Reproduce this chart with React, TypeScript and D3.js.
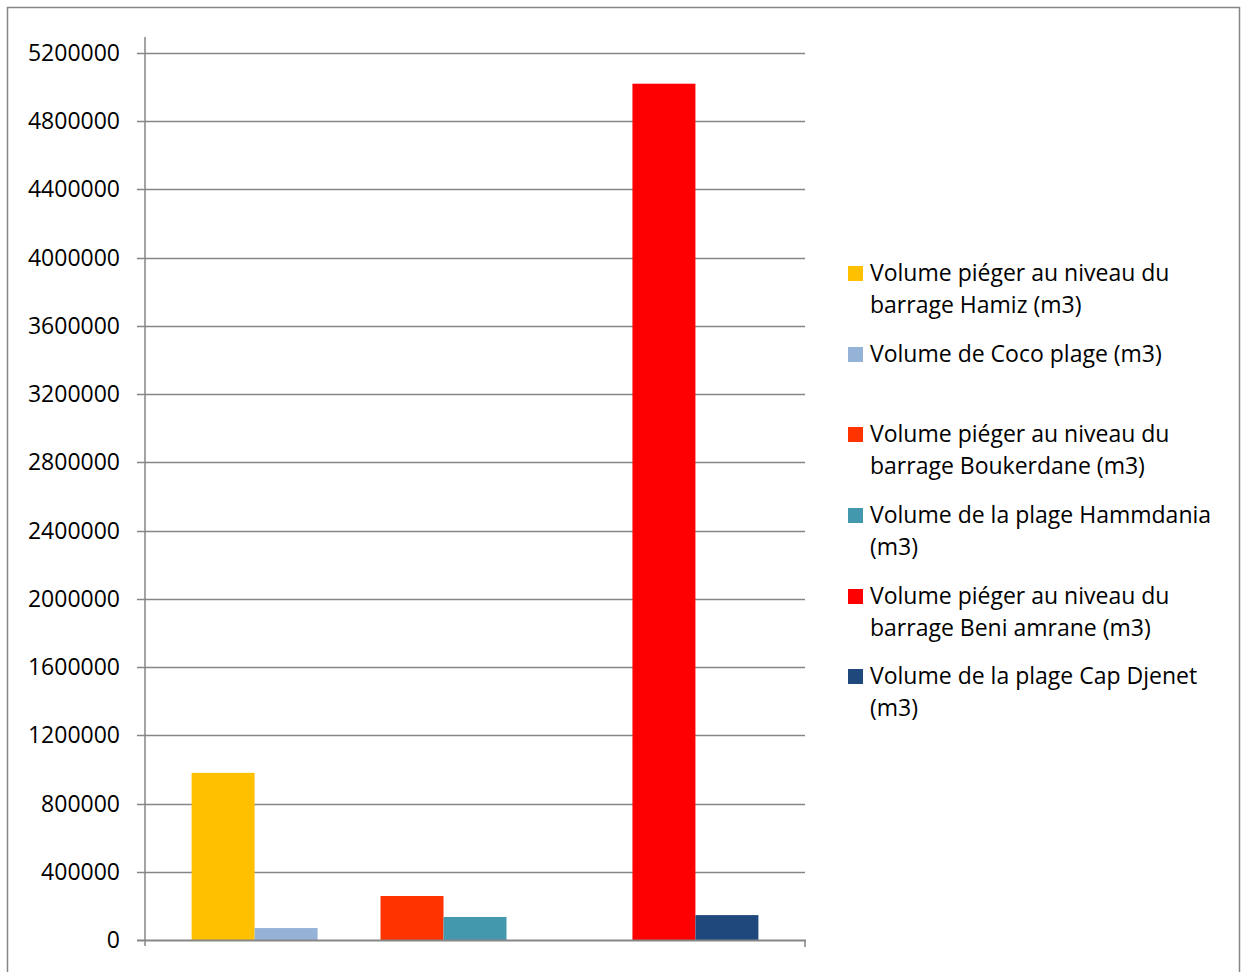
import React, { useEffect, useRef } from "react";
import * as d3 from "d3";

// slots along the x axis (empty ones keep the gaps between the pairs)
const slots = ["Hamiz", "Coco", "gap1", "Boukerdane", "Hammdania", "gap2", "gap3", "BeniAmrane", "CapDjenet"];
const seriesKeys = ["Hamiz", "Coco", "Boukerdane", "Hammdania", "BeniAmrane", "CapDjenet"];
const seriesValues = [980000, 70000, 258000, 135000, 5020000, 146000];
const seriesColors = ["#FFC000", "#95B3D7", "#FF3300", "#4498AE", "#FF0000", "#1F497D"];
const legendLines = [
  ["Volume piéger au niveau du", "barrage Hamiz (m3)"],
  ["Volume de Coco plage (m3)"],
  ["Volume piéger au niveau du", "barrage Boukerdane (m3)"],
  ["Volume de la plage Hammdania", "(m3)"],
  ["Volume piéger au niveau du", "barrage Beni amrane (m3)"],
  ["Volume de la plage Cap Djenet", "(m3)"],
];
const legendTop = [280, 361, 441, 522, 603, 683];
const yTicks = d3.range(0, 5200001, 400000);

const W = 1241;
const H = 972;
const FONT = "'Open Sans', Lato, sans-serif";

const App = () => {
  const ref = useRef(null);

  useEffect(() => {
    if (!ref.current) return;
    const svg = d3.select(ref.current);
    svg.selectAll("*").remove();

    const left = 145, right = 805, top = 53, bottom = 940;
    const x = d3.scaleBand().domain(slots).range([left, right]).paddingInner(0).paddingOuter(0.74);
    const y = d3.scaleLinear().domain([0, 5200000]).range([bottom, top]);
    const grey = "#868686";

    svg.append("rect")
      .attr("x", 7.5).attr("y", 7.5).attr("width", W - 9).attr("height", H)
      .attr("fill", "white").attr("stroke", grey).attr("stroke-width", 1.5);

    // grid
    svg.append("g").selectAll("line").data(yTicks.filter(d => d > 0)).enter()
      .append("line")
      .attr("x1", left - 8).attr("x2", right)
      .attr("y1", d => Math.round(y(d)) + 0.5).attr("y2", d => Math.round(y(d)) + 0.5)
      .attr("stroke", grey).attr("stroke-width", 1.5);

    // y axis line
    svg.append("line")
      .attr("x1", left).attr("x2", left).attr("y1", 37).attr("y2", bottom + 6)
      .attr("stroke", grey).attr("stroke-width", 1.5);

    svg.append("g").selectAll("text").data(yTicks).enter()
      .append("text")
      .attr("x", 120).attr("y", d => y(d) + 8)
      .attr("text-anchor", "end")
      .style("font-family", FONT).style("font-size", "23px").attr("fill", "#000")
      .text(d => String(d));

    // bars
    svg.append("g").selectAll("rect").data(seriesKeys).enter()
      .append("rect")
      .attr("x", d => x(d) as number)
      .attr("width", x.bandwidth())
      .attr("y", (d, i) => y(seriesValues[i]))
      .attr("height", (d, i) => bottom - y(seriesValues[i]))
      .attr("fill", (d, i) => seriesColors[i]);

    // x axis
    svg.append("line")
      .attr("x1", left - 8).attr("x2", right + 1).attr("y1", bottom + 0.5).attr("y2", bottom + 0.5)
      .attr("stroke", grey).attr("stroke-width", 2);
    svg.append("line")
      .attr("x1", right).attr("x2", right).attr("y1", bottom).attr("y2", bottom + 7)
      .attr("stroke", grey).attr("stroke-width", 1.5);

    // legend
    const lg = svg.append("g").selectAll("g").data(legendLines).enter().append("g");
    lg.append("rect")
      .attr("x", 848).attr("y", (d, i) => legendTop[i] - 14)
      .attr("width", 15).attr("height", 15)
      .attr("fill", (d, i) => seriesColors[i]);
    lg.each(function (lines, i) {
      d3.select(this).selectAll("text").data(lines).enter()
        .append("text")
        .attr("x", 870).attr("y", (t, j) => legendTop[i] + 1 + j * 32)
        .style("font-family", FONT).style("font-size", "23px").attr("fill", "#000")
        .text(t => t);
    });
  }, []);

  return (
    <svg ref={ref} width={W} height={H}
      style={{ position: "absolute", left: 0, top: 0, display: "block" }} />
  );
};

export default App;
